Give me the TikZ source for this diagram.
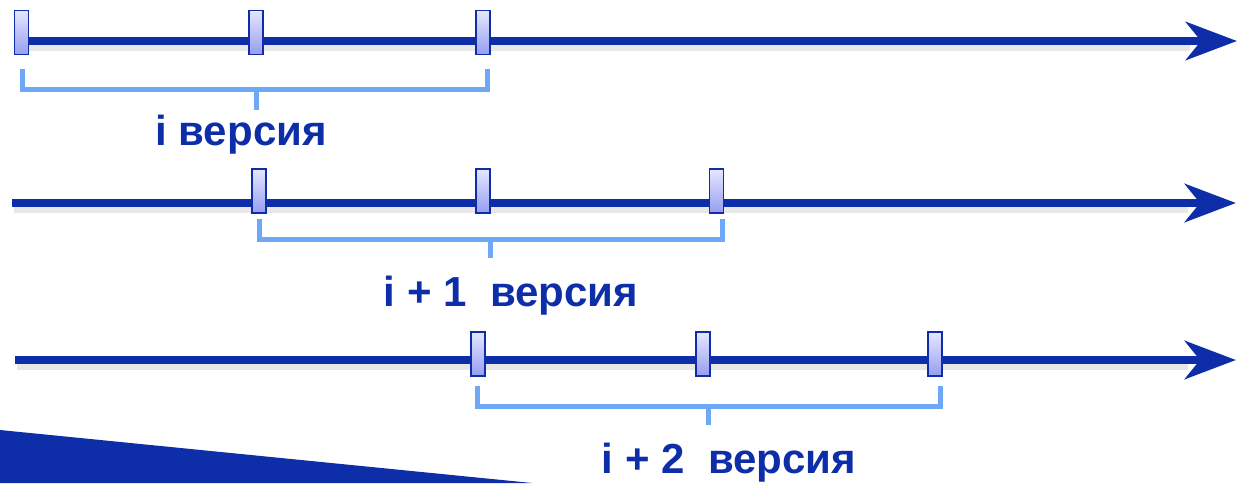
\documentclass[tikz,border=0pt]{standalone}
\usepackage{fontspec}
\setmainfont{Liberation Sans}
\usetikzlibrary{arrows.meta}
\definecolor{axisblue}{RGB}{13,46,168}
\definecolor{brackblue}{RGB}{108,168,246}
\definecolor{marktop}{RGB}{230,230,255}
\definecolor{markbot}{RGB}{150,158,240}
\tikzset{
  axis/.style={draw=axisblue, line width=8.5pt, -{Stealth[length=51pt, width=38pt, inset=15pt]}},
  axshadow/.style={draw=black, opacity=0.09, line width=9pt},
  marker/.style={draw=axisblue, line width=1.8pt, top color=marktop, bottom color=markbot,
    minimum width=14pt, minimum height=44pt, inner sep=0pt, rectangle},
  brack/.style={draw=brackblue, line width=5pt, line cap=butt},
  lbl/.style={text=axisblue, font=\fontsize{42}{50}\selectfont\bfseries, anchor=base, inner sep=0pt}
}
\begin{document}
\begin{tikzpicture}[x=1pt,y=-1pt]
\useasboundingbox (0,0) rectangle (1237,483);
% decorative triangle
\fill[axisblue] (0,430) -- (0,483) -- (532,483) -- cycle;
% ---- line 1
\coordinate (s1) at (18,41);
\coordinate (e1) at (1237,41);
\draw[axshadow] (20,46) -- (1190,46);
\draw[axis] (s1) -- (e1);
\node[marker] (m11) at (21.5,32.5) {};
\node[marker] (m12) at (256,32.5) {};
\node[marker] (m13) at (483,32.5) {};
\coordinate (b1l) at (22,69);
\coordinate (b1r) at (487,69);
\coordinate (b1m) at (256,89);
\coordinate (b1t) at (256,110);
\draw[brack] (b1l) |- (b1m) -| (b1r);
\draw[brack] (b1m) -- (b1t);
\node[lbl] (t1) at (241,145) {i версия};
% ---- line 2
\coordinate (s2) at (12,203);
\coordinate (e2) at (1236,203);
\draw[axshadow] (14,208) -- (1188,208);
\draw[axis] (s2) -- (e2);
\node[marker] (m21) at (259,191) {};
\node[marker] (m22) at (483,191) {};
\node[marker] (m23) at (716.5,191) {};
\coordinate (b2l) at (259,219);
\coordinate (b2r) at (722,219);
\coordinate (b2m) at (490,239);
\coordinate (b2t) at (490,258);
\draw[brack] (b2l) |- (b2m) -| (b2r);
\draw[brack] (b2m) -- (b2t);
\node[lbl] (t2) at (511,306) {i + 1\ \ версия};
% ---- line 3
\coordinate (s3) at (15,360);
\coordinate (e3) at (1236,360);
\draw[axshadow] (17,365) -- (1188,365);
\draw[axis] (s3) -- (e3);
\node[marker] (m31) at (478,354) {};
\node[marker] (m32) at (703,354) {};
\node[marker] (m33) at (935,354) {};
\coordinate (b3l) at (477,386);
\coordinate (b3r) at (940,386);
\coordinate (b3m) at (708,406);
\coordinate (b3t) at (708,425);
\draw[brack] (b3l) |- (b3m) -| (b3r);
\draw[brack] (b3m) -- (b3t);
\node[lbl] (t3) at (729,473) {i + 2\ \ версия};
\end{tikzpicture}
\end{document}
